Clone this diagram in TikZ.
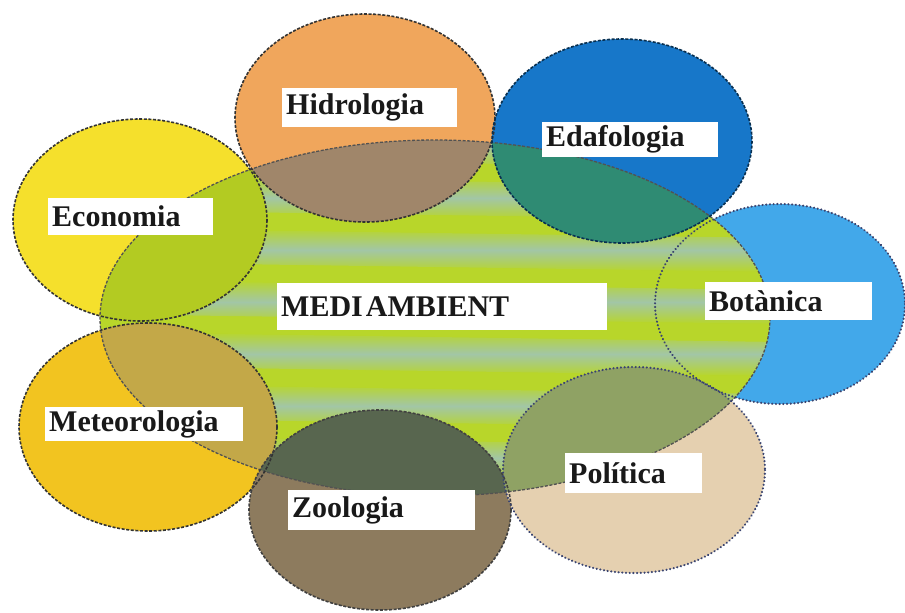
\documentclass[tikz,border=0pt]{standalone}
\usepackage{fontspec}
\setmainfont{Liberation Serif}
\definecolor{cenA}{HTML}{B8D62A}
\definecolor{cenB}{HTML}{A2C6A6}
\definecolor{hidC}{HTML}{F0A65C}
\definecolor{hidO}{HTML}{A0866A}
\definecolor{edaC}{HTML}{1777C9}
\definecolor{edaO}{HTML}{2F8B73}
\definecolor{ecoC}{HTML}{F5E02C}
\definecolor{ecoO}{HTML}{B3CB22}
\definecolor{botC}{HTML}{42A8EA}
\definecolor{metC}{HTML}{F2C420}
\definecolor{metO}{HTML}{C3A848}
\definecolor{zooC}{HTML}{8D7B5E}
\definecolor{zooO}{HTML}{58664F}
\definecolor{polC}{HTML}{E5D0B0}
\definecolor{polO}{HTML}{8FA264}
\definecolor{edgeC}{HTML}{333333}
\definecolor{dotC}{HTML}{3A4470}
\newcommand\CenP{(435,318) ellipse [x radius=335, y radius=178]}
\newcommand\HidP{(365,118) ellipse [x radius=130, y radius=104]}
\newcommand\EdaP{(622,141) ellipse [x radius=130, y radius=102]}
\newcommand\EcoP{(140,220) ellipse [x radius=127, y radius=101]}
\newcommand\BotP{(780,304) ellipse [x radius=125, y radius=100]}
\newcommand\MetP{(148,427) ellipse [x radius=129, y radius=104]}
\newcommand\ZooP{(380,510) ellipse [x radius=131, y radius=100]}
\newcommand\PolP{(634,470) ellipse [x radius=131, y radius=103]}
\begin{document}
\begin{tikzpicture}[x=1pt,y=-1pt,
  lab/.style={fill=white, inner xsep=4pt, inner ysep=0pt, anchor=north west,
    align=left, font=\fontsize{30}{32}\selectfont\bfseries, text=black!90},
  edge/.style={draw=edgeC, line width=1.6pt, dash pattern=on 3pt off 1.6pt},
  dots/.style={draw=dotC, line width=2.3pt, dash pattern=on 0.1pt off 3.6pt, line cap=round},
  cedge/.style={draw=edgeC!85, line width=1.3pt, dash pattern=on 3pt off 1.6pt}]
\useasboundingbox[fill=white] (0,0) rectangle (905,613);

% Botanica (under the central ellipse)
\fill[botC] \BotP;

% central ellipse with soft stripes
\begin{scope}
  \clip \CenP;
  \fill[cenA] \CenP;
  \foreach \yy in {124,176,...,480}{
    \shade[top color=cenA, bottom color=cenA, middle color=cenB]
      (90,\yy) -- (780,{\yy+10}) -- (780,{\yy+44}) -- (90,{\yy+34}) -- cycle;
  }
\end{scope}

% surrounding circles
\fill[hidC] \HidP;
\fill[edaC] \EdaP;
\fill[ecoC] \EcoP;
\fill[metC] \MetP;
\fill[zooC] \ZooP;
\fill[polC] \PolP;

% overlaps with the central ellipse
\begin{scope}\clip \HidP; \fill[hidO] \CenP;\end{scope}
\begin{scope}\clip \EdaP; \fill[edaO] \CenP;\end{scope}
\begin{scope}\clip \EcoP; \fill[ecoO] \CenP;\end{scope}
\begin{scope}\clip \MetP; \fill[metO] \CenP;\end{scope}
\begin{scope}\clip \ZooP; \fill[zooO] \CenP;\end{scope}
\begin{scope}\clip \PolP; \fill[polO] \CenP;\end{scope}

% outlines
\path[cedge] \CenP;
\path[edge] \HidP;
\path[edge, draw=edaC!40!black] \EdaP;
\path[edge] \EcoP;
\path[edge] \MetP;
\path[edge, draw=black!75] \ZooP;
\path[dots] \BotP;
\path[dots] \PolP;

% labels
\node[lab, text width=167pt, minimum height=39pt] (hid) at (282,88) {Hidrologia};
\node[lab, text width=168pt, minimum height=35pt] (eda) at (542,122) {Edafologia};
\node[lab, text width=157pt, minimum height=37pt] (eco) at (48,198) {Economia};
\node[lab, text width=322pt, minimum height=47pt] (med) at (277,283) {MEDI\hspace{3pt}AMBIENT};
\node[lab, text width=159pt, minimum height=38pt] (bot) at (705,282) {Botànica};
\node[lab, text width=190pt, minimum height=34pt] (met) at (45,407) {Meteorologia};
\node[lab, text width=129pt, minimum height=40pt] (pol) at (565,453) {Política};
\node[lab, text width=179pt, minimum height=40pt] (zoo) at (288,490) {Zoologia};
\end{tikzpicture}
\end{document}
